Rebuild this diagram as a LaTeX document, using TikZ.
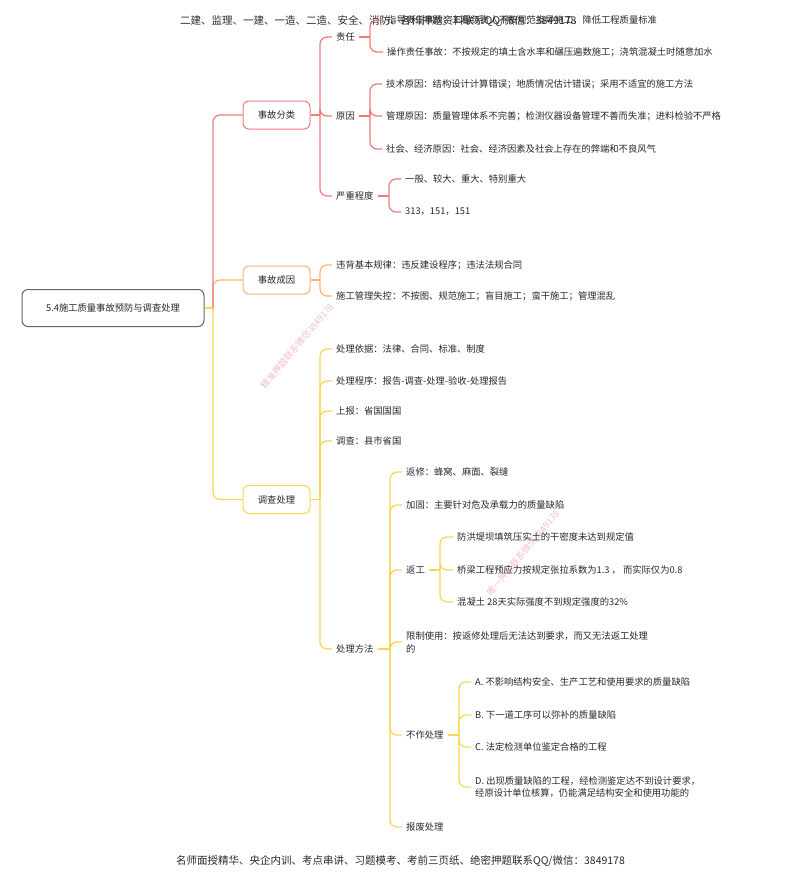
\documentclass[tikz,border=0pt]{standalone}
\usepackage{fontspec}
\setmainfont{Noto Sans CJK SC}
\definecolor{cred}{RGB}{242,122,122}
\definecolor{corange}{RGB}{249,180,115}
\definecolor{cyellow}{RGB}{248,214,80}
\definecolor{rootgray}{RGB}{100,100,100}
\definecolor{txt}{RGB}{40,40,40}
\definecolor{wmpink}{RGB}{240,190,198}
\begin{document}
\begin{tikzpicture}[x=1pt,y=-1pt,
  tfont/.style={font=\fontsize{9.3}{12.8}\selectfont},
  leaf/.style={tfont,anchor=west,inner xsep=4pt,inner ysep=1pt,text=txt,align=left},
  rootbox/.style={tfont,draw=rootgray,line width=1pt,rounded corners=6pt,minimum width=182pt,minimum height=37pt,fill=white,text=txt},
  lvbox/.style={tfont,line width=1pt,rounded corners=6pt,minimum width=67pt,minimum height=28pt,fill=white,text=txt},
  rc/.style={rounded corners=7pt,line width=1.2pt},
  ln/.style={line width=1.2pt},
  wm/.style={text=wmpink,font=\fontsize{9}{9}\selectfont,rotate=50}
]
\useasboundingbox (0,0) rectangle (800,879);

% watermarks
\node[wm] (wm1) at (297,346) {精准押题联系微信3849178};
\node[wm] (wm2) at (523,553) {唯一押题联系微信3849178};

% header / footer
\node[anchor=west,inner sep=0pt,text=txt,font=\fontsize{10.5}{12}\selectfont] (hdr) at (180,21) {二建、监理、一建、一造、二造、安全、消防、各科押题资料联系QQ/微信：3849178};
\node[inner sep=0pt,text=txt,font=\fontsize{10.5}{12}\selectfont] (ftr) at (400.5,861) {名师面授精华、央企内训、考点串讲、习题模考、考前三页纸、绝密押题联系QQ/微信：3849178};

% root and level 1
\node[rootbox] (root) at (113,308) {5.4施工质量事故预防与调查处理};
\node[lvbox,draw=cred] (fl) at (276.5,115) {事故分类};
\node[lvbox,draw=corange] (cy) at (276.5,280) {事故成因};
\node[lvbox,draw=cyellow] (dc) at (276.5,499.5) {调查处理};

% level 2 - 事故分类
\node[leaf] (zr) at (332,37) {责任};
\node[leaf] (yy) at (332,116) {原因};
\node[leaf] (yz) at (332,196) {严重程度};
\node[leaf] (zr1) at (383,20) {指导责任事故：工程负责人不按规范指导施工，降低工程质量标准};
\node[leaf] (zr2) at (383,52) {操作责任事故：不按规定的填土含水率和碾压遍数施工；浇筑混凝土时随意加水};
\node[leaf] (yy1) at (382,84) {技术原因：结构设计计算错误；地质情况估计错误；采用不适宜的施工方法};
\node[leaf] (yy2) at (382,116) {管理原因：质量管理体系不完善；检测仪器设备管理不善而失准；进料检验不严格};
\node[leaf] (yy3) at (382,149) {社会、经济原因：社会、经济因素及社会上存在的弊端和不良风气};
\node[leaf] (yz1) at (401,179) {一般、较大、重大、特别重大};
\node[leaf] (yz2) at (401,212) {313，151，151};

% level 2 - 事故成因
\node[leaf] (cy1) at (332,265) {违背基本规律：违反建设程序；违法法规合同};
\node[leaf] (cy2) at (332,296) {施工管理失控：不按图、规范施工；盲目施工；蛮干施工；管理混乱};

% level 2 - 调查处理
\node[leaf] (dc1) at (332,349) {处理依据：法律、合同、标准、制度};
\node[leaf] (dc2) at (332,381) {处理程序：报告-调查-处理-验收-处理报告};
\node[leaf] (dc3) at (332,411) {上报：省国国国};
\node[leaf] (dc4) at (332,441) {调查：县市省国};
\node[leaf] (ff) at (332,649) {处理方法};

\node[leaf] (ff1) at (402,472) {返修：蜂窝、麻面、裂缝};
\node[leaf] (ff2) at (402,505) {加固：主要针对危及承载力的质量缺陷};
\node[leaf] (ff3) at (402,570) {返工};
\node[leaf] (ff4) at (402,642) {限制使用：按返修处理后无法达到要求，而又无法返工处理\\的};
\node[leaf] (ff5) at (402,735) {不作处理};
\node[leaf] (ff6) at (402,827) {报废处理};

\node[leaf] (fg1) at (453,537) {防洪堤坝填筑压实土的干密度未达到规定值};
\node[leaf] (fg2) at (453,570) {桥梁工程预应力按规定张拉系数为1.3 ， 而实际仅为0.8};
\node[leaf] (fg3) at (453,602) {混凝土 28天实际强度不到规定强度的32\%};

\node[leaf] (bz1) at (471,682) {A. 不影响结构安全、生产工艺和使用要求的质量缺陷};
\node[leaf] (bz2) at (471,715) {B. 下一道工序可以弥补的质量缺陷};
\node[leaf] (bz3) at (471,747) {C. 法定检测单位鉴定合格的工程};
\node[leaf] (bz4) at (471,787) {D. 出现质量缺陷的工程，经检测鉴定达不到设计要求，\\经原设计单位核算，仍能满足结构安全和使用功能的};

% trunk coordinates
\coordinate (trt) at (213,308);
\coordinate (tfl) at (320,115);
\coordinate (tzr) at (370,37);
\coordinate (tyy) at (370,116);
\coordinate (tyz) at (389,196);
\coordinate (tcy) at (320,280);
\coordinate (tdc) at (320,499.5);
\coordinate (tff) at (390,649);
\coordinate (tfg) at (440,570);
\coordinate (tbz) at (459,735);

% root connectors
\draw[ln,cyellow] (root.east) -- (trt);
\draw[rc,cyellow] (trt) |- (dc.west);
\draw[rc,corange] (trt) |- (cy.west);
\draw[rc,cred] (trt) |- (fl.west);

% 事故分类
\draw[ln,cred] (fl.east) -- (tfl);
\foreach \c in {zr,yy,yz} \draw[rc,cred] (tfl) |- (\c.west);
\draw[ln,cred] (zr.east) -- (tzr);
\foreach \c in {zr1,zr2} \draw[rc,cred] (tzr) |- (\c.west);
\draw[ln,cred] (yy.east) -- (tyy);
\foreach \c in {yy1,yy2,yy3} \draw[rc,cred] (tyy) |- (\c.west);
\draw[ln,cred] (yz.east) -- (tyz);
\foreach \c in {yz1,yz2} \draw[rc,cred] (tyz) |- (\c.west);

% 事故成因
\draw[ln,corange] (cy.east) -- (tcy);
\foreach \c in {cy1,cy2} \draw[rc,corange] (tcy) |- (\c.west);

% 调查处理
\draw[ln,cyellow] (dc.east) -- (tdc);
\foreach \c in {dc1,dc2,dc3,dc4,ff} \draw[rc,cyellow] (tdc) |- (\c.west);
\draw[ln,cyellow] (ff.east) -- (tff);
\foreach \c in {ff1,ff2,ff3,ff4,ff5,ff6} \draw[rc,cyellow] (tff) |- (\c.west);
\draw[ln,cyellow] (ff3.east) -- (tfg);
\foreach \c in {fg1,fg2,fg3} \draw[rc,cyellow] (tfg) |- (\c.west);
\draw[ln,cyellow] (ff5.east) -- (tbz);
\foreach \c in {bz1,bz2,bz3,bz4} \draw[rc,cyellow] (tbz) |- (\c.west);
\end{tikzpicture}
\end{document}
